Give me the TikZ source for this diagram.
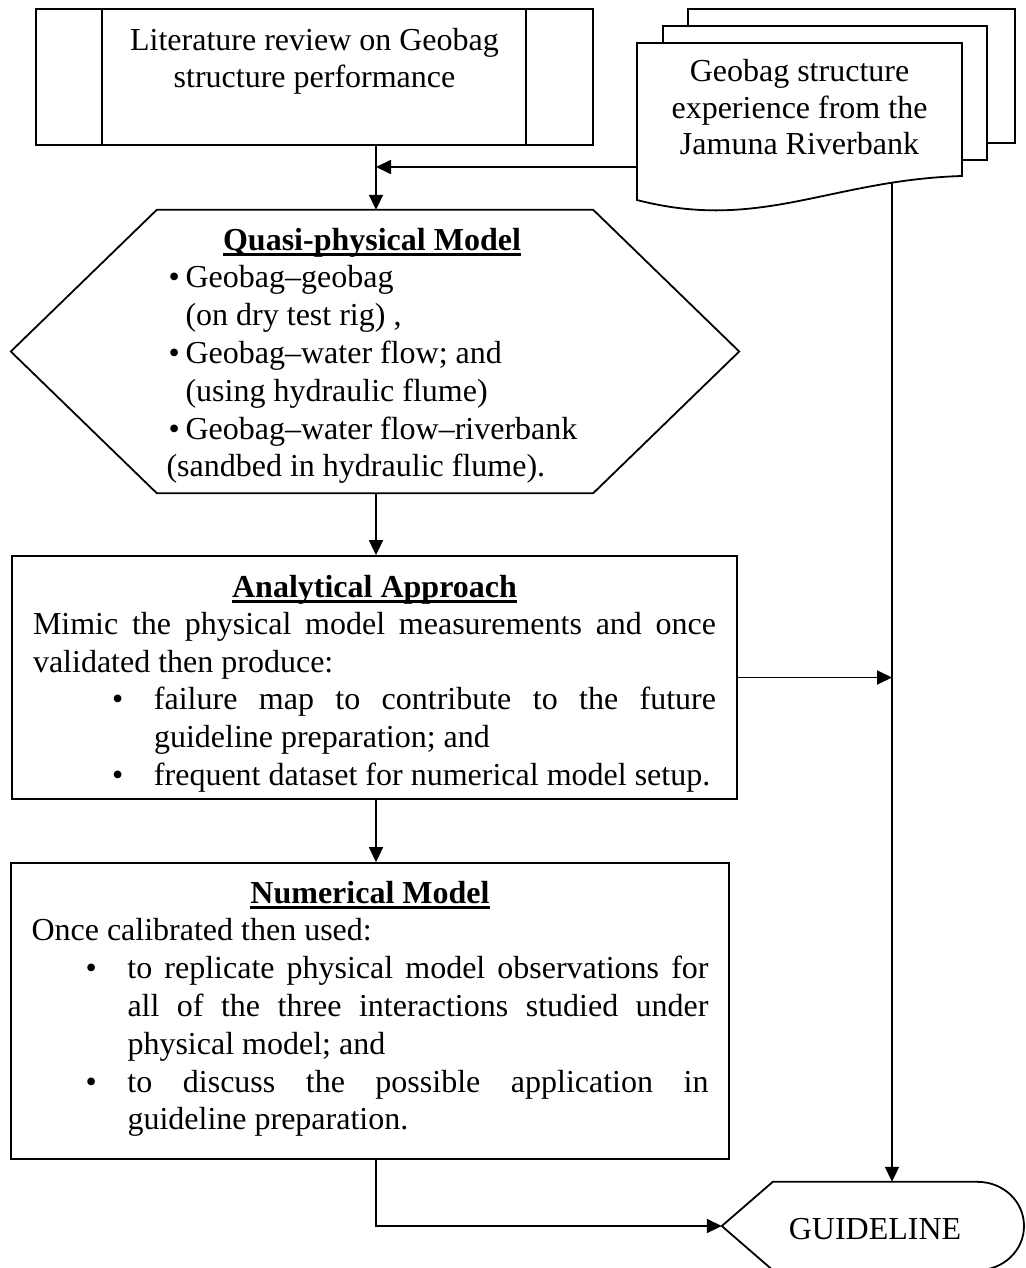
\documentclass[tikz,border=0pt]{standalone}
\usepackage{fontspec}
\setmainfont{Liberation Serif}
\usetikzlibrary{arrows.meta}
\newcommand\myul[1]{\leavevmode\setbox0\hbox{#1}\rlap{\rule[-6pt]{\wd0}{2.8pt}}\box0}
\newcommand\bul[2]{{\leftskip=#1\noindent\llap{\makebox[42pt][l]{\textbullet}}#2\par}}
\begin{document}
\begin{tikzpicture}[x=1pt,y=-1pt,
  lw/.style={line width=1.8pt},
  box/.style={draw, lw, rectangle, inner sep=0pt},
  txt/.style={font=\fontsize{32}{#1}\selectfont},
  txt/.default=37.6,
  conn/.style={lw, -{Triangle[length=15pt,width=14pt]}}]
\fill[white] (0,0) rectangle (1025,1268);
\useasboundingbox (0,0) rectangle (1025,1268);

% literature review (predefined process)
\node[box, txt=36.8, minimum width=557pt, text height=42pt, text depth=94pt] (lit) at (314.5,77)
  {\begin{tabular}[t]{@{}c@{}}Literature review on Geobag\\structure performance\end{tabular}};
\draw[lw] ([xshift=67pt]lit.north west) -- ([xshift=67pt]lit.south west);
\draw[lw] ([xshift=-68pt]lit.north east) -- ([xshift=-68pt]lit.south east);

% multi-document
\draw[lw, fill=white] (688,9) rectangle (1015,143);
\draw[lw, fill=white] (663,26) rectangle (987,160);
\draw[lw, fill=white] (637,43) -- (962,43) -- (962,176) .. controls (830,180) and (760,232) .. (637,200) -- cycle;
\node[inner sep=0pt, txt=36.4, minimum width=325pt, text height=39pt, text depth=94pt] (doc) at (799.5,109.5)
  {\begin{tabular}[t]{@{}c@{}}Geobag structure\\experience from the\\Jamuna Riverbank\end{tabular}};
\coordinate (docL) at (637,167);
\coordinate (docB) at (892,183);

% hexagon
\node[inner sep=0pt, txt=37.8, minimum width=436pt, text height=40pt, text depth=243pt] (hex) at (375,351.5)
  {\begin{tabular}[t]{@{}l@{}}
   \multicolumn{1}{@{}c@{}}{\myul{\textbf{Quasi-physical Model}}}\\
   \makebox[19pt][l]{\hspace{2pt}\textbullet}Geobag–geobag\\
   \hspace*{19pt}(on dry test rig) ,\\
   \makebox[19pt][l]{\hspace{2pt}\textbullet}Geobag–water flow; and\\
   \hspace*{19pt}(using hydraulic flume)\\
   \makebox[19pt][l]{\hspace{2pt}\textbullet}Geobag–water flow–riverbank\\
   (sandbed in hydraulic flume).
   \end{tabular}\hspace*{6pt}};
\draw[lw] (hex.north west) -- (hex.north east) -- ([xshift=146pt]hex.east) -- (hex.south east)
  -- (hex.south west) -- ([xshift=-146pt]hex.west) -- cycle;

% analytical approach
\node[box, txt=37.6, minimum width=725pt, text height=41pt, text depth=202pt] (ana) at (374.5,677.5)
  {\parbox[t]{683pt}{\parindent=0pt
   {\centering\myul{\textbf{Analytical Approach}}\par}
   Mimic the physical model measurements and once\linebreak validated then produce:\par
   \bul{121pt}{failure map to contribute to the future\linebreak guideline preparation; and}
   \bul{121pt}{frequent dataset for numerical model setup.}}};

% numerical model
\node[box, txt=37.8, minimum width=718pt, text height=40pt, text depth=256pt] (num) at (370,1011)
  {\parbox[t]{677pt}{\parindent=0pt
   {\centering\myul{\textbf{Numerical Model}}\par}
   Once calibrated then used:\par
   \bul{96pt}{to replicate physical model observations for\linebreak all of the three interactions studied under\linebreak physical model; and}
   \bul{96pt}{to discuss the possible application in\linebreak guideline preparation.}}};

% guideline (display shape)
\node[inner sep=0pt, txt, minimum width=204pt, text height=57pt, text depth=31pt] (guide) at (875,1226) {GUIDELINE};
\coordinate (gtip) at ([xshift=-51pt]guide.west);
\draw[lw] (gtip) -- (guide.north west) -- (guide.north east)
  .. controls +(26.5,0) and +(0,-24.3) .. (1024,1226)
  .. controls +(0,24.3) and +(26.5,0) .. (guide.south east)
  -- (guide.south west) -- cycle;

% connectors
\coordinate (spine) at (376,0);
\draw[conn] (lit.south -| spine) -- (hex.north -| spine);
\draw[conn] (docL) -- (docL -| spine);
\draw[conn] (hex.south -| spine) -- (ana.north -| spine);
\draw[conn] (ana.south -| spine) -- (num.north -| spine);
\draw[conn] (ana.east) -- (ana.east -| docB);
\draw[conn] (docB) -- (docB |- guide.north);
\draw[conn] (num.south -| spine) |- (gtip);
\end{tikzpicture}
\end{document}
